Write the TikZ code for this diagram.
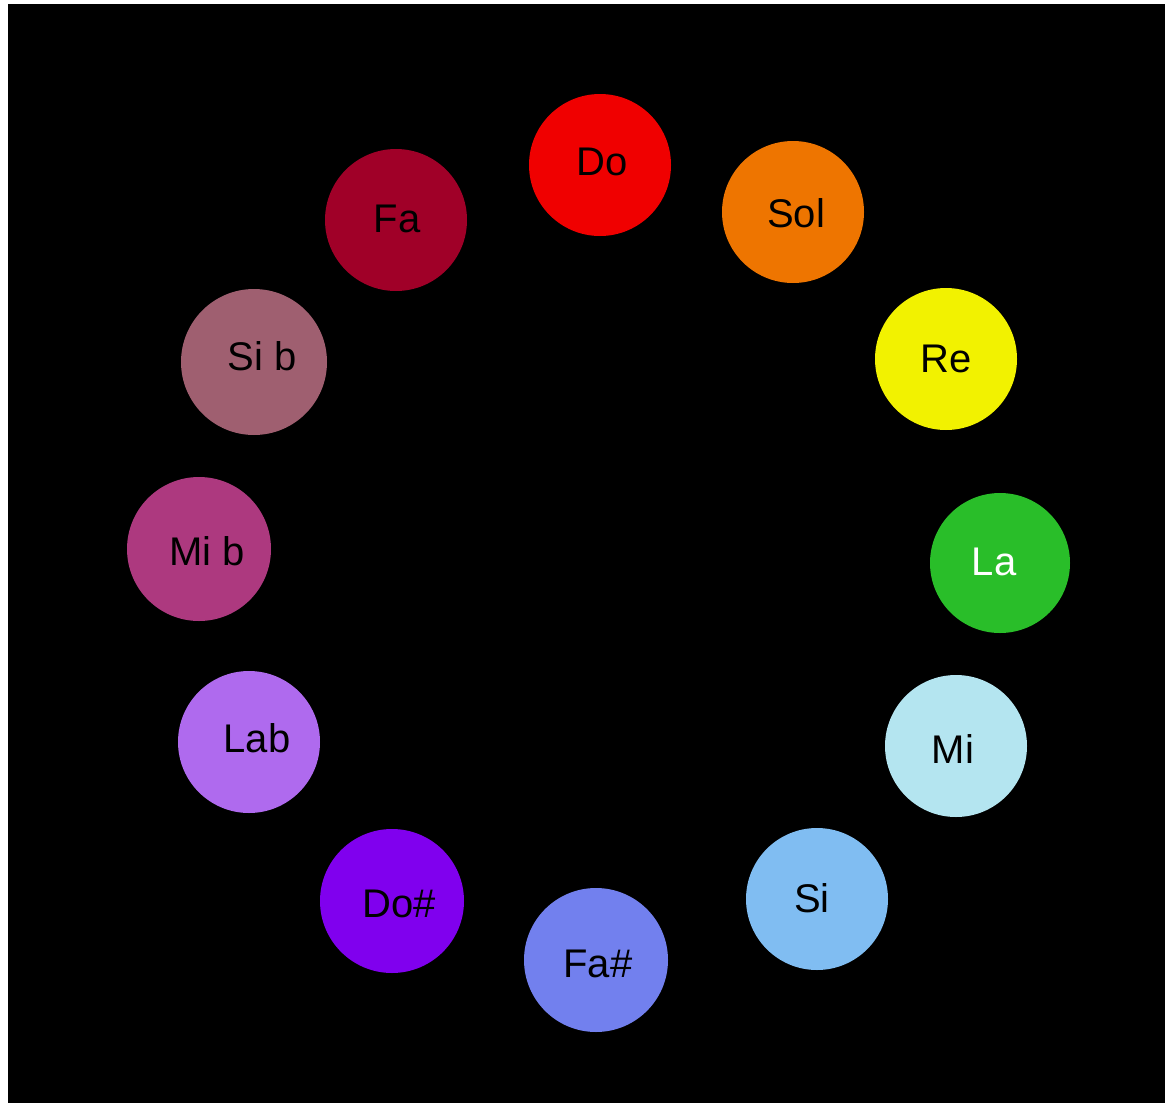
\documentclass[tikz,border=0pt]{standalone}
\usepackage{fontspec}
\setmainfont{Liberation Sans}
\definecolor{cDo}{HTML}{F00000}
\definecolor{cSol}{HTML}{EE7500}
\definecolor{cRe}{HTML}{F2F200}
\definecolor{cLa}{HTML}{29BE29}
\definecolor{cMi}{HTML}{B4E5F0}
\definecolor{cSi}{HTML}{80BDF2}
\definecolor{cFas}{HTML}{7280EE}
\definecolor{cDos}{HTML}{8000EE}
\definecolor{cLab}{HTML}{AF6AEE}
\definecolor{cMib}{HTML}{AD397F}
\definecolor{cSib}{HTML}{9F5F70}
\definecolor{cFa}{HTML}{A00028}
\tikzset{
  notedisc/.style={circle, inner sep=0pt, minimum size=#1},
  notedisc/.default=142pt,
  notetext/.style={anchor=base, inner sep=0pt, font=\fontsize{40}{48}\selectfont, text=black}
}
\begin{document}
\begin{tikzpicture}[x=1pt,y=-1pt]
\useasboundingbox (0,0) rectangle (1165,1103);
\fill[white] (0,0) rectangle (1165,1103);
\fill[black] (8,4) rectangle (1165,1103);
% discs
\node[notedisc, fill=cDo] (do) at (600,165) {};
\node[notedisc, fill=cSol] (sol) at (793,212) {};
\node[notedisc, fill=cRe] (re) at (946,359) {};
\node[notedisc=140pt, fill=cLa] (la) at (1000,563) {};
\node[notedisc, fill=cMi] (mi) at (956,746) {};
\node[notedisc, fill=cSi] (si) at (817,899) {};
\node[notedisc=144pt, fill=cFas] (fas) at (596,960) {};
\node[notedisc=144pt, fill=cDos] (dos) at (392,901) {};
\node[notedisc, fill=cLab] (lab) at (249,742) {};
\node[notedisc=144pt, fill=cMib] (mib) at (199,549) {};
\node[notedisc=146pt, fill=cSib] (sib) at (254,362) {};
\node[notedisc, fill=cFa] (fa) at (396,220) {};
% labels
\node[notetext] (do-t) at (602,175) {Do};
\node[notetext] (sol-t) at (796,227) {Sol};
\node[notetext] (re-t) at (946,372) {Re};
\node[notetext, text=white] (la-t) at (994,575) {La};
\node[notetext] (mi-t) at (953,763) {Mi};
\node[notetext] (si-t) at (812,912) {Si};
\node[notetext] (fas-t) at (598,977) {Fa\#};
\node[notetext] (dos-t) at (399,917) {Do\#};
\node[notetext] (lab-t) at (257,752) {Lab};
\node[notetext] (mib-t) at (207,565) {Mi b};
\node[notetext] (sib-t) at (262,370) {Si b};
\node[notetext] (fa-t) at (397,232) {Fa};
\end{tikzpicture}
\end{document}
